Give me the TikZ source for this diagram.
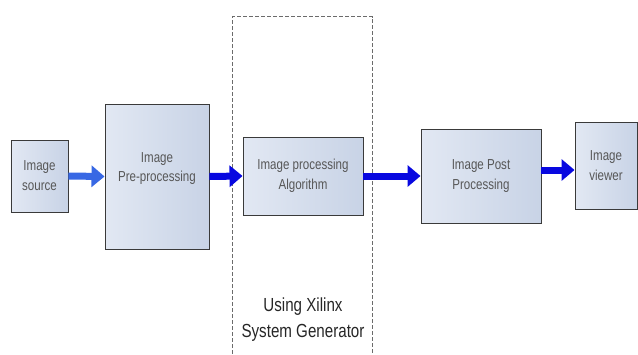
\documentclass[tikz,border=0pt]{standalone}
\usepackage{fontspec}
\setmainfont{Liberation Sans}[FakeStretch=0.8]
\usetikzlibrary{arrows.meta}
\tikzset{>=Stealth}
\definecolor{boxlight}{HTML}{E2E8F3}
\definecolor{boxdark}{HTML}{C8D3E6}
\definecolor{boxline}{HTML}{3A3A3A}
\definecolor{flowblue}{HTML}{0808E0}
\definecolor{flowlight}{HTML}{3868E4}
\tikzstyle{block}=[draw=boxline, line width=0.9bp, left color=boxlight, right color=boxdark, inner sep=0pt, align=center, text=black!66, font=\fontsize{14.5}{20}\selectfont]
\tikzstyle{blocktext}=[align=center, text=black!66, font=\fontsize{14.5}{20}\selectfont]
\tikzstyle{flow}=[-{Triangle[length=13bp,width=21bp]}, line width=7bp, flowblue]

\begin{document}
\begin{tikzpicture}[x=1bp,y=-1bp]
            \useasboundingbox (0,0) rectangle (638,354);
            \draw[boxline!75, line width=0.8bp, dash pattern=on 4bp off 2bp] (232.5,354) |- (372.5,16.5) -- (372.5,354);
            \node[block, minimum width=57bp, minimum height=72bp] (src) at (39.5,176) {Image\\source};
            \node[block, minimum width=104bp, minimum height=145bp] (pre) at (157,176.5) {};
            \node[blocktext] (pretxt) at (157,168.5) {Image\\Pre-processing};
            \node[block, minimum width=120bp, minimum height=78bp] (algo) at (303,176) {Image processing\\Algorithm};
            \node[block, minimum width=120bp, minimum height=94bp] (post) at (481,176) {Image Post\\Processing};
            \node[block, minimum width=62bp, minimum height=87bp] (view) at (606,166) {Image\\viewer};
            \node[align=center, text=black!85, font=\fontsize{19}{26}\selectfont] (xsg) at (303,320) {Using Xilinx\\System Generator};
            \coordinate (pv) at ([yshift=6bp]post.east);
            \draw[flow, flowlight] (src.east) -- (pre.west);
            \draw[flow] (pre.east) -- (algo.west);
            \draw[flow] (algo.east) -- (post.west);
            \draw[flow] (pv) -- (pv -| view.west);
        \end{tikzpicture}
\end{document}
